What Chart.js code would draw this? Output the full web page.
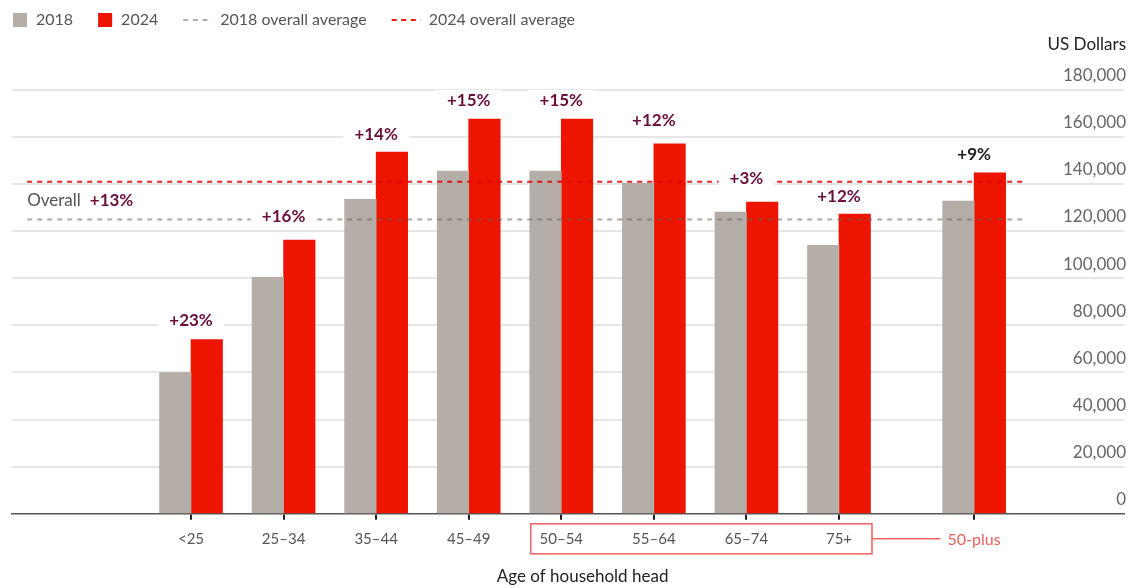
<!DOCTYPE html>
<html>
<head>
<meta charset="utf-8">
<title>Household income by age of head</title>
<script src="https://cdn.jsdelivr.net/npm/chart.js@4.4.1/dist/chart.umd.min.js"></script>
<style>
  html, body { margin: 0; padding: 0; background: #fff; }
  canvas { display: block; }
</style>
</head>
<body>
<canvas id="chart-income" width="1144" height="588"></canvas>
<script>
  // Median household income (US$) by age of household head
  const ageGroups = ['<25', '25–34', '35–44', '45–49', '50–54', '55–64', '65–74', '75+', '50-plus'];
  const income2018 = [59900, 100300, 133400, 145400, 145400, 140300, 128000, 113900, 132700];
  const income2024 = [73900, 116100, 153400, 167500, 167500, 156900, 132200, 127100, 144600];
  const changeLabels = ['+23%', '+16%', '+14%', '+15%', '+15%', '+12%', '+3%', '+12%', '+9%'];

  const overall2018 = 124800;
  const overall2024 = 140900;
  const overallChange = '+13%';

  const yTicks = [0, 20000, 40000, 60000, 80000, 100000, 120000, 140000, 160000, 180000];

  const FONT = 'Lato, "Noto Sans", sans-serif';
  const GREY = '#b5ada7';
  const RED = '#ee1500';
  const MAROON = '#6a0f3b';
  const SALMON = '#ef6060';

  // the 50-plus summary pair sits a little apart from the age bands
  const SUMMARY_GAP = 1.46;
  const lastIdx = ageGroups.length - 1;
  const positions = ageGroups.map((_, i) => (i === lastIdx ? i - 1 + SUMMARY_GAP : i));
  const AVG_FROM = -1.77;
  const AVG_TO = 9.0;
  const BAR = 31.5;
  // how far each change label floats above its taller bar
  const labelLift = [19, 24, 18, 18, 18, 23, 24, 18, 18];

  Chart.defaults.font.family = FONT;

  const toPoints = (values) => values.map((v, i) => ({ x: positions[i], y: v }));

  const overlay = {
    id: 'overlay',
    afterDatasetsDraw(chart) {
      const { ctx, scales: { x, y } } = chart;
      ctx.save();
      ctx.textBaseline = 'middle';

      // change labels on white patches so the lines break behind them
      ctx.font = 'bold 17px ' + FONT;
      ctx.textAlign = 'center';
      changeLabels.forEach((txt, i) => {
        const cx = x.getPixelForValue(positions[i]);
        const top = y.getPixelForValue(Math.max(income2018[i], income2024[i]));
        const cy = top - labelLift[i];
        const w = ctx.measureText(txt).width;
        ctx.fillStyle = '#fff';
        ctx.fillRect(cx - w / 2 - 11, cy - 11, w + 22, 22);
        ctx.fillStyle = i === lastIdx ? '#222' : MAROON;
        ctx.fillText(txt, cx, cy);
      });

      // "Overall +13%" between the two average lines
      const ox = x.getPixelForValue(AVG_FROM);
      const oy = (y.getPixelForValue(overall2018) + y.getPixelForValue(overall2024)) / 2;
      ctx.textAlign = 'left';
      ctx.font = '17px ' + FONT;
      ctx.fillStyle = '#555';
      ctx.fillText('Overall', ox, oy);
      const ow = ctx.measureText('Overall').width;
      ctx.font = 'bold 17px ' + FONT;
      ctx.fillStyle = MAROON;
      ctx.fillText(overallChange, ox + ow + 9, oy);
      ctx.restore();
    },
    afterDraw(chart) {
      const { ctx, scales: { x, y } } = chart;
      ctx.save();
      ctx.textBaseline = 'middle';

      // legend
      let lx = 13;
      const ly = 20;
      ctx.font = '16px ' + FONT;
      chart.data.datasets.forEach((ds) => {
        if (ds.type === 'line') {
          ctx.strokeStyle = ds.legendColor;
          ctx.lineWidth = 2;
          ctx.setLineDash([5, 4.6]);
          ctx.beginPath();
          ctx.moveTo(lx, ly);
          ctx.lineTo(lx + 29, ly);
          ctx.stroke();
          ctx.setLineDash([]);
          lx += 37;
        } else {
          ctx.fillStyle = ds.backgroundColor;
          ctx.fillRect(lx, ly - 7, 14, 14);
          lx += 23;
        }
        ctx.fillStyle = '#555';
        ctx.textAlign = 'left';
        ctx.fillText(ds.label, lx, ly);
        lx += ctx.measureText(ds.label).width + 25;
      });

      // unit label above the value axis
      ctx.font = '17px ' + FONT;
      ctx.fillStyle = '#222';
      ctx.textAlign = 'right';
      ctx.fillText('US Dollars', chart.width - 18, 45);

      // x axis title, centred on the bars
      const left = x.getPixelForValue(positions[0]) - BAR;
      const right = x.getPixelForValue(positions[lastIdx]) + BAR;
      ctx.textAlign = 'center';
      ctx.fillText('Age of household head', (left + right) / 2, 577);

      // box around the 50+ bands, tied to the summary label
      const b0 = x.getPixelForValue(positions[4]) - 30.5;
      const b1 = x.getPixelForValue(positions[7]) + 33;
      const by = y.getPixelForValue(0) + 25;
      ctx.strokeStyle = SALMON;
      ctx.lineWidth = 1.5;
      ctx.strokeRect(b0, by - 15, b1 - b0, 30);
      ctx.font = '16px ' + FONT;
      const sx = x.getPixelForValue(positions[lastIdx]);
      const sw = ctx.measureText(ageGroups[lastIdx]).width;
      ctx.beginPath();
      ctx.moveTo(b1, by);
      ctx.lineTo(sx - sw / 2 - 7, by);
      ctx.stroke();
      ctx.restore();
    },
  };

  new Chart(document.getElementById('chart-income'), {
    type: 'bar',
    data: {
      datasets: [
        { label: '2018', data: toPoints(income2018), backgroundColor: GREY, barThickness: BAR, order: 1 },
        { label: '2024', data: toPoints(income2024), backgroundColor: RED, barThickness: BAR, order: 1 },
        {
          type: 'line', label: '2018 overall average',
          data: [{ x: AVG_FROM, y: overall2018 }, { x: AVG_TO, y: overall2018 }],
          borderColor: 'rgba(105, 96, 90, 0.55)', legendColor: '#b3aeaa',
          borderWidth: 2, borderDash: [5, 5], pointRadius: 0, order: 0,
        },
        {
          type: 'line', label: '2024 overall average',
          data: [{ x: AVG_FROM, y: overall2024 }, { x: AVG_TO, y: overall2024 }],
          borderColor: 'rgba(225, 0, 0, 0.85)', legendColor: '#f01a10',
          borderWidth: 2, borderDash: [5, 5], pointRadius: 0, order: 0,
        },
      ],
    },
    options: {
      responsive: false,
      animation: false,
      layout: { padding: { left: 12, right: 16, top: 89.5, bottom: 29 } },
      plugins: {
        legend: { display: false },
        title: { display: false },
        tooltip: { enabled: false },
      },
      scales: {
        x: {
          type: 'linear',
          offset: false,
          min: -1.934,
          max: 10.079,
          afterBuildTicks: (scale) => {
            scale.ticks = positions.map((v) => ({ value: v }));
          },
          ticks: {
            autoSkip: false,
            maxRotation: 0,
            padding: 10,
            font: (c) => ({ size: c.index === lastIdx ? 16 : 15 }),
            color: (c) => (c.index === lastIdx ? SALMON : '#555'),
            callback: (v, i) => ageGroups[i],
          },
          grid: { offset: false, drawOnChartArea: false, drawTicks: true, tickLength: 6, color: '#222', lineWidth: 2 },
          border: { color: '#555', width: 1.5 },
        },
        y: {
          position: 'right',
          min: 0,
          max: 180000,
          afterBuildTicks: (scale) => {
            scale.ticks = yTicks.map((v) => ({ value: v }));
          },
          ticks: {
            mirror: true,
            padding: 2,
            labelOffset: -14,
            font: { size: 17 },
            color: '#666',
            callback: (v) => v.toLocaleString('en-US'),
          },
          grid: {
            drawTicks: false,
            lineWidth: 2,
            color: (c) => (c.tick && c.tick.value === 0 ? 'rgba(0,0,0,0)' : '#e6e6e6'),
          },
          border: { display: false },
        },
      },
    },
    plugins: [overlay],
  });
</script>
</body>
</html>
